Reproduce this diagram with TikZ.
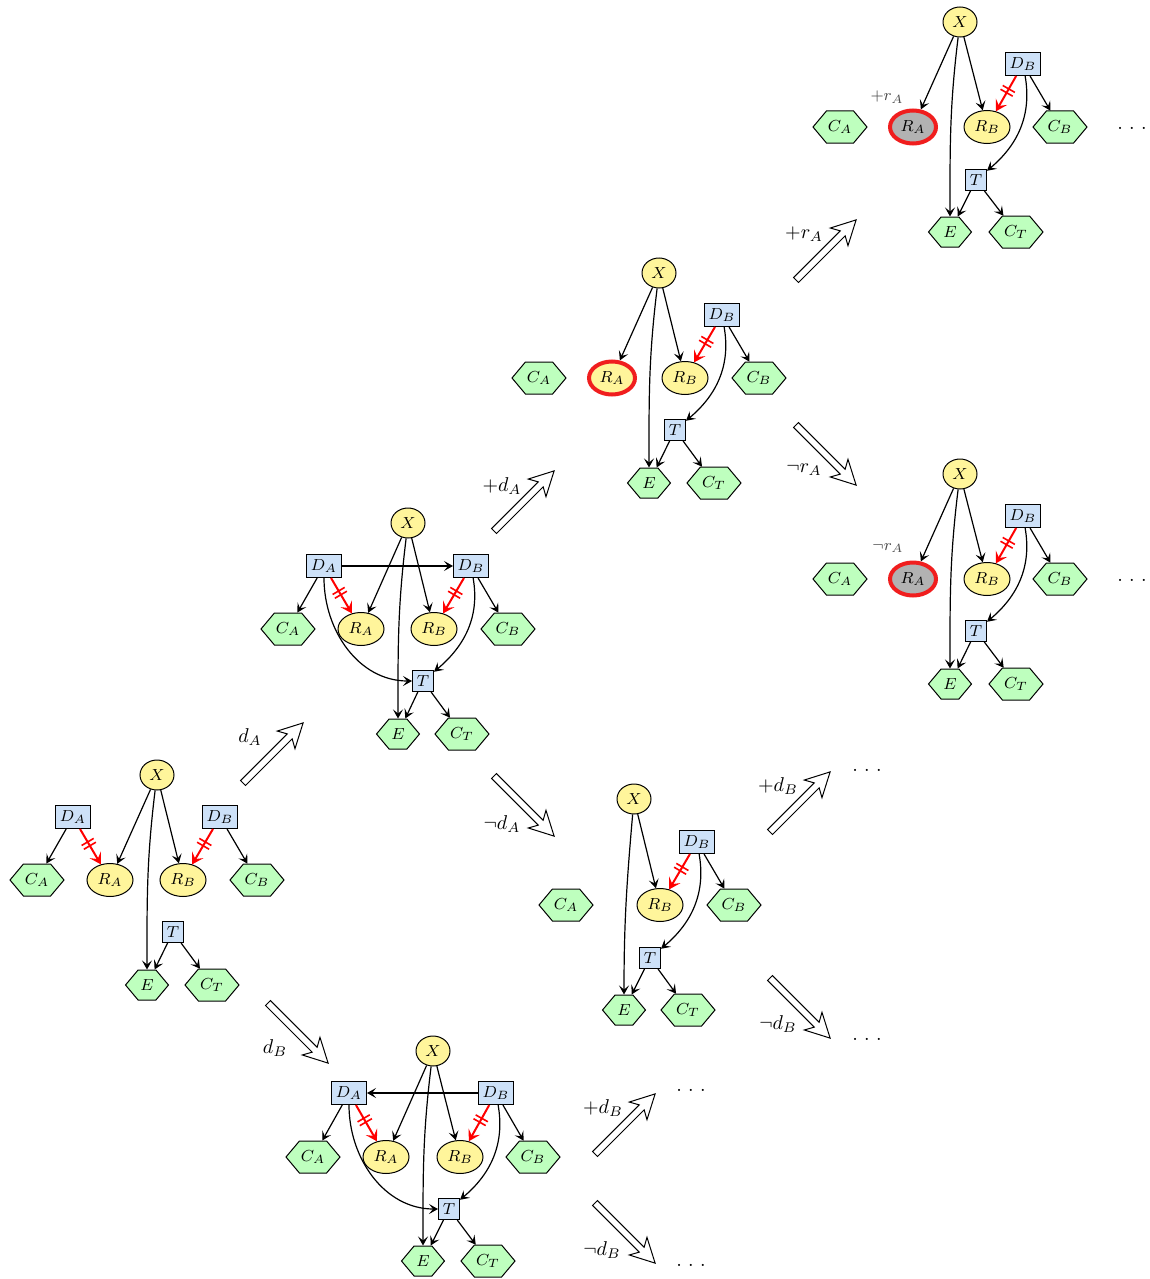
\documentclass[tikz,border=0pt]{standalone}
\usetikzlibrary{shapes.geometric, shapes.symbols, arrows.meta, decorations.markings}
\definecolor{cyel}{RGB}{255,245,155}
\definecolor{cblue}{RGB}{205,225,248}
\definecolor{cgreen}{RGB}{190,255,190}
\definecolor{cgrey}{RGB}{178,178,178}
\definecolor{cred}{RGB}{240,30,30}
\tikzset{
 chance/.style={ellipse, draw, line width=0.5pt, fill=cyel, inner sep=0pt, font=\footnotesize},
 xnode/.style={chance, minimum width=17pt, minimum height=15pt},
 rnode/.style={chance, minimum width=23pt, minimum height=16.5pt},
 rsel/.style={rnode, draw=cred, line width=2pt},
 rgone/.style={rnode, draw=cred, fill=cgrey, line width=2pt},
 decision/.style={rectangle, draw, line width=0.5pt, fill=cblue, inner sep=0pt, minimum height=11.5pt, font=\footnotesize},
 dnode/.style={decision, minimum width=17.5pt},
 tnode/.style={decision, minimum width=10.5pt, minimum height=10.5pt},
 util/.style={signal, signal to=east and west, signal pointer angle=100, draw, line width=0.5pt, fill=cgreen, inner sep=0pt, font=\footnotesize},
 cnode/.style={util, minimum width=27pt, minimum height=16pt},
 enode/.style={util, minimum width=21.5pt, minimum height=15pt},
 arr/.style={-{Stealth[length=4.5pt,width=5pt,inset=2pt]}, line width=0.6pt},
 redarr/.style={-{Stealth[length=5.5pt,width=6.5pt,inset=2.4pt]}, draw=red, line width=1pt,
   postaction={decorate},
   decoration={markings, mark=at position 0.42 with {\draw[red, line width=0.8pt, -] (-1.1pt,-3.5pt) -- (-1.1pt,3.5pt) (1.1pt,-3.5pt) -- (1.1pt,3.5pt);}}},
 biglab/.style={font=\normalsize},
 smalllab/.style={font=\footnotesize, text=black!70},
 dotslab/.style={anchor=base, font=\normalsize},
 bigarrow/.pic={\draw[line width=0.5pt, fill=white] (0,-3.5) -- (66,-3.5) -- (61,-12.5) -- (85,0) -- (61,12.5) -- (66,3.5) -- (0,3.5) -- cycle;}
}
\begin{document}
\begin{tikzpicture}[x=0.5pt,y=0.5pt]
\useasboundingbox (0,0) rectangle (1150,-1279);

% ---------- Cluster a (bottom left)
\begin{scope}[shift={(157,-775)}]
\node[xnode] (aX) at (0,0) {$X$};
\node[dnode] (aDA) at (-84,-42) {$D_A$};
\node[dnode] (aDB) at (63,-42) {$D_B$};
\node[cnode] (aCA) at (-120,-105) {$C_A$};
\node[rnode] (aRA) at (-47,-105) {$R_A$};
\node[rnode] (aRB) at (26,-105) {$R_B$};
\node[cnode] (aCB) at (100,-105) {$C_B$};
\node[tnode] (aT) at (16,-157) {$T$};
\node[enode] (aE) at (-10,-210) {$E$};
\node[cnode] (aCT) at (55,-210) {$C_T$};
\end{scope}
\draw[arr] (aX) -- (aRA);
\draw[arr] (aX) -- (aRB);
\draw[arr] (aX) to[out=-97,in=90] (aE);
\draw[arr] (aDA) -- (aCA);
\draw[redarr] (aDA) -- (aRA);
\draw[arr] (aDB) -- (aCB);
\draw[redarr] (aDB) -- (aRB);
\draw[arr] (aT) -- (aE);
\draw[arr] (aT) -- (aCT);

% ---------- Cluster b (d_A)
\begin{scope}[shift={(408,-523)}]
\node[xnode] (bX) at (0,0) {$X$};
\node[dnode] (bDA) at (-84,-43) {$D_A$};
\node[dnode] (bDB) at (63,-43) {$D_B$};
\node[cnode] (bCA) at (-120,-106) {$C_A$};
\node[rnode] (bRA) at (-47,-106) {$R_A$};
\node[rnode] (bRB) at (26,-106) {$R_B$};
\node[cnode] (bCB) at (100,-106) {$C_B$};
\node[tnode] (bT) at (15,-158) {$T$};
\node[enode] (bE) at (-10,-211) {$E$};
\node[cnode] (bCT) at (54,-211) {$C_T$};
\end{scope}
\draw[arr] (bX) -- (bRA);
\draw[arr] (bX) -- (bRB);
\draw[arr] (bX) to[out=-97,in=90] (bE);
\draw[arr] (bDA) -- (bCA);
\draw[redarr] (bDA) -- (bRA);
\draw[arr] (bDB) -- (bCB);
\draw[redarr] (bDB) -- (bRB);
\draw[arr] (bDA) -- (bDB);
\draw[arr] (bDA) to[out=-90,in=180] (bT);
\draw[arr] (bDB) to[out=-80,in=40] (bT);
\draw[arr] (bT) -- (bE);
\draw[arr] (bT) -- (bCT);

% ---------- Cluster c (d_B)
\begin{scope}[shift={(433,-1051)}]
\node[xnode] (cX) at (0,0) {$X$};
\node[dnode] (cDA) at (-84,-42) {$D_A$};
\node[dnode] (cDB) at (63,-42) {$D_B$};
\node[cnode] (cCA) at (-120,-106) {$C_A$};
\node[rnode] (cRA) at (-47,-106) {$R_A$};
\node[rnode] (cRB) at (27,-106) {$R_B$};
\node[cnode] (cCB) at (100,-106) {$C_B$};
\node[tnode] (cT) at (16,-158) {$T$};
\node[enode] (cE) at (-10,-210) {$E$};
\node[cnode] (cCT) at (55,-210) {$C_T$};
\end{scope}
\draw[arr] (cX) -- (cRA);
\draw[arr] (cX) -- (cRB);
\draw[arr] (cX) to[out=-97,in=90] (cE);
\draw[arr] (cDA) -- (cCA);
\draw[redarr] (cDA) -- (cRA);
\draw[arr] (cDB) -- (cCB);
\draw[redarr] (cDB) -- (cRB);
\draw[arr] (cDB) -- (cDA);
\draw[arr] (cDA) to[out=-90,in=180] (cT);
\draw[arr] (cDB) to[out=-80,in=40] (cT);
\draw[arr] (cT) -- (cE);
\draw[arr] (cT) -- (cCT);

% ---------- Cluster d (+d_A)
\begin{scope}[shift={(659,-273)}]
\node[xnode] (dX) at (0,0) {$X$};
\node[dnode] (dDB) at (63,-42) {$D_B$};
\node[cnode] (dCA) at (-120,-105) {$C_A$};
\node[rsel] (dRA) at (-47,-105) {$R_A$};
\node[rnode] (dRB) at (26,-105) {$R_B$};
\node[cnode] (dCB) at (100,-105) {$C_B$};
\node[tnode] (dT) at (16,-157) {$T$};
\node[enode] (dE) at (-10,-210) {$E$};
\node[cnode] (dCT) at (55,-210) {$C_T$};
\end{scope}
\draw[arr] (dX) -- (dRA);
\draw[arr] (dX) -- (dRB);
\draw[arr] (dX) to[out=-97,in=90] (dE);
\draw[arr] (dDB) -- (dCB);
\draw[redarr] (dDB) -- (dRB);
\draw[arr] (dDB) to[out=-80,in=40] (dT);
\draw[arr] (dT) -- (dE);
\draw[arr] (dT) -- (dCT);

% ---------- Cluster e (+r_A)
\begin{scope}[shift={(960,-22)}]
\node[xnode] (eX) at (0,0) {$X$};
\node[dnode] (eDB) at (63,-42) {$D_B$};
\node[cnode] (eCA) at (-120,-105) {$C_A$};
\node[rgone] (eRA) at (-47,-105) {$R_A$};
\node[rnode] (eRB) at (27,-105) {$R_B$};
\node[cnode] (eCB) at (100,-105) {$C_B$};
\node[tnode] (eT) at (16,-158) {$T$};
\node[enode] (eE) at (-10,-210) {$E$};
\node[cnode] (eCT) at (56,-210) {$C_T$};
\node[smalllab] (elab) at (-73,-75) {$+r_A$};
\node[dotslab] (edots) at (172,-107) {.\hspace{3.2pt}.\hspace{3.2pt}.};
\end{scope}
\draw[arr] (eX) -- (eRA);
\draw[arr] (eX) -- (eRB);
\draw[arr] (eX) to[out=-97,in=90] (eE);
\draw[arr] (eDB) -- (eCB);
\draw[redarr] (eDB) -- (eRB);
\draw[arr] (eDB) to[out=-80,in=40] (eT);
\draw[arr] (eT) -- (eE);
\draw[arr] (eT) -- (eCT);

% ---------- Cluster f (neg r_A)
\begin{scope}[shift={(960,-474)}]
\node[xnode] (fX) at (0,0) {$X$};
\node[dnode] (fDB) at (63,-42) {$D_B$};
\node[cnode] (fCA) at (-120,-105) {$C_A$};
\node[rgone] (fRA) at (-47,-105) {$R_A$};
\node[rnode] (fRB) at (27,-105) {$R_B$};
\node[cnode] (fCB) at (100,-105) {$C_B$};
\node[tnode] (fT) at (16,-157) {$T$};
\node[enode] (fE) at (-10,-210) {$E$};
\node[cnode] (fCT) at (56,-210) {$C_T$};
\node[smalllab] (flab) at (-72,-74) {$\neg r_A$};
\node[dotslab] (fdots) at (172,-107) {.\hspace{3.2pt}.\hspace{3.2pt}.};
\end{scope}
\draw[arr] (fX) -- (fRA);
\draw[arr] (fX) -- (fRB);
\draw[arr] (fX) to[out=-97,in=90] (fE);
\draw[arr] (fDB) -- (fCB);
\draw[redarr] (fDB) -- (fRB);
\draw[arr] (fDB) to[out=-80,in=40] (fT);
\draw[arr] (fT) -- (fE);
\draw[arr] (fT) -- (fCT);

% ---------- Cluster g (neg d_A)
\begin{scope}[shift={(634,-799)}]
\node[xnode] (gX) at (0,0) {$X$};
\node[dnode] (gDB) at (63,-43) {$D_B$};
\node[cnode] (gCA) at (-68,-106) {$C_A$};
\node[rnode] (gRB) at (26,-106) {$R_B$};
\node[cnode] (gCB) at (100,-106) {$C_B$};
\node[tnode] (gT) at (16,-159) {$T$};
\node[enode] (gE) at (-10,-211) {$E$};
\node[cnode] (gCT) at (54,-211) {$C_T$};
\end{scope}
\draw[arr] (gX) -- (gRB);
\draw[arr] (gX) to[out=-95,in=90] (gE);
\draw[arr] (gDB) -- (gCB);
\draw[redarr] (gDB) -- (gRB);
\draw[arr] (gDB) to[out=-80,in=40] (gT);
\draw[arr] (gT) -- (gE);
\draw[arr] (gT) -- (gCT);

% ---------- Big transition arrows and labels
\path (243,-783) pic[rotate=45] {bigarrow};
\node[biglab] (l1) at (250,-737) {$d_A$};
\path (268,-1003) pic[rotate=-45] {bigarrow};
\node[biglab] (l2) at (275,-1048) {$d_B$};
\path (494,-531) pic[rotate=45] {bigarrow};
\node[biglab] (l3) at (502,-486) {$+d_A$};
\path (494,-776) pic[rotate=-45] {bigarrow};
\node[biglab] (l4) at (502,-824) {$\neg d_A$};
\path (796,-280) pic[rotate=45] {bigarrow};
\node[biglab] (l5) at (804,-234) {$+r_A$};
\path (796,-425) pic[rotate=-45] {bigarrow};
\node[biglab] (l6) at (804,-470) {$\neg r_A$};
\path (770,-832) pic[rotate=45] {bigarrow};
\node[biglab] (l7) at (778,-786) {$+d_B$};
\node[dotslab] (d7) at (867,-771) {.\hspace{3.2pt}.\hspace{3.2pt}.};
\path (770,-978) pic[rotate=-45] {bigarrow};
\node[biglab] (l8) at (778,-1024) {$\neg d_B$};
\node[dotslab] (d8) at (867,-1040) {.\hspace{3.2pt}.\hspace{3.2pt}.};
\path (595,-1154) pic[rotate=45] {bigarrow};
\node[biglab] (l9) at (603,-1108) {$+d_B$};
\node[dotslab] (d9) at (691,-1091) {.\hspace{3.2pt}.\hspace{3.2pt}.};
\path (595,-1203) pic[rotate=-45] {bigarrow};
\node[biglab] (l10) at (602,-1250) {$\neg d_B$};
\node[dotslab] (d10) at (691,-1266) {.\hspace{3.2pt}.\hspace{3.2pt}.};
\end{tikzpicture}
\end{document}
